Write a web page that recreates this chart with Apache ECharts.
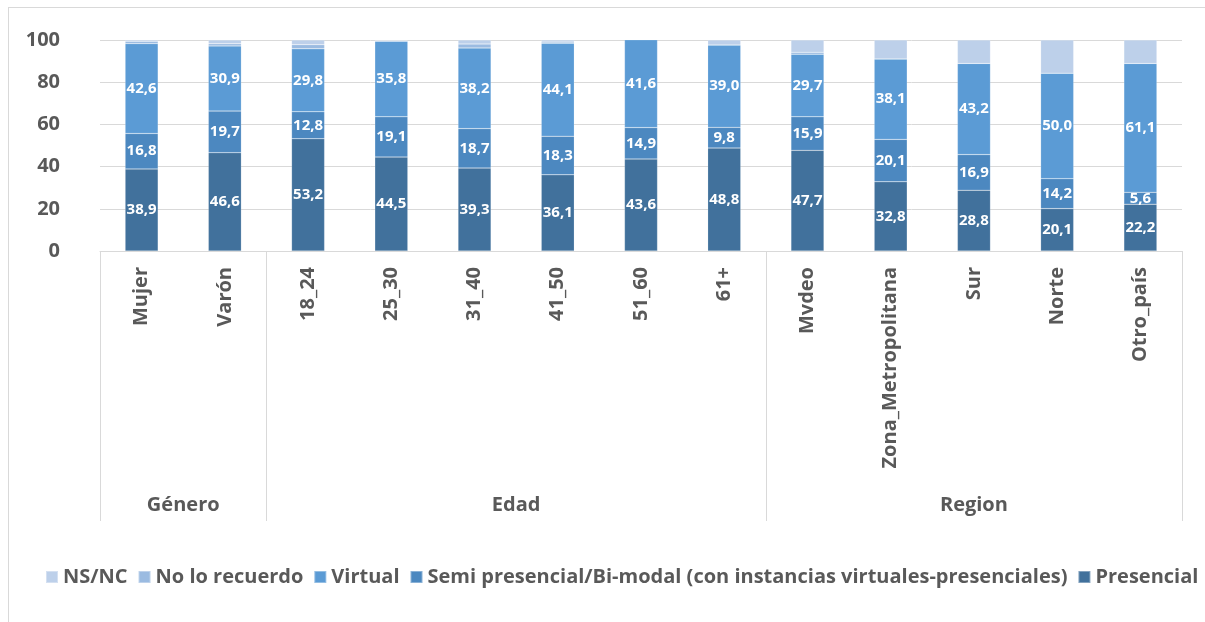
<!DOCTYPE html>
<html>
<head>
<meta charset="utf-8">
<script src="https://cdn.jsdelivr.net/npm/echarts@6/dist/echarts.min.js"></script>
<style>
  html, body { margin: 0; padding: 0; background: #fff; }
  #frame { position: absolute; left: 8px; top: 7px; width: 1300px; height: 700px; border: 1px solid #d9d9d9; box-sizing: border-box; }
  #chart { position: absolute; left: 0; top: 0; width: 1205px; height: 622px; }
</style>
</head>
<body>
<div id="frame"></div>
<div id="chart"></div>
<script>
const categories = ['Mujer', 'Varón', '18_24', '25_30', '31_40', '41_50', '51_60', '61+', 'Mvdeo', 'Zona_Metropolitana', 'Sur', 'Norte', 'Otro_país'];
const groups = ['Género', 'Edad', 'Region'];
const groupSizes = [2, 6, 5];

const presencial = [38.9, 46.6, 53.2, 44.5, 39.3, 36.1, 43.6, 48.8, 47.7, 32.8, 28.8, 20.1, 22.2];
const semi       = [16.8, 19.7, 12.8, 19.1, 18.7, 18.3, 14.9, 9.8, 15.9, 20.1, 16.9, 14.2, 5.6];
const virtual    = [42.6, 30.9, 29.8, 35.8, 38.2, 44.1, 41.6, 39.0, 29.7, 38.1, 43.2, 50.0, 61.1];
const noRecuerdo = [1.1, 1.0, 2.0, 0.3, 1.9, 0.5, 0.0, 0.0, 0.9, 0.0, 0.0, 0.0, 0.0];
const nsnc       = [0.6, 1.8, 2.2, 0.3, 1.9, 1.0, 0.0, 2.4, 5.8, 9.0, 11.1, 15.7, 11.1];

const yTicks = [0, 20, 40, 60, 80, 100];

const seriesNames = ['Presencial', 'Semi presencial/Bi-modal (con instancias virtuales-presenciales)', 'Virtual', 'No lo recuerdo', 'NS/NC'];
const seriesData = [presencial, semi, virtual, noRecuerdo, nsnc];
const colors = ['#41719C', '#4C88C0', '#5B9BD5', '#9BBBE1', '#BDD0EA'];
const labelled = [true, true, true, false, false];

// group boundaries and centers on a 0..13 value axis
const bounds = [0];
groupSizes.forEach(s => bounds.push(bounds[bounds.length - 1] + s));
const centers = groupSizes.map((s, i) => bounds[i] + s / 2);

const FONT = 'Open Sans';
const GREY = '#595959';

const chart = echarts.init(document.getElementById('chart'), null, { renderer: 'canvas' });

const series = seriesNames.map((name, i) => ({
  name: name,
  type: 'bar',
  stack: 'total',
  xAxisIndex: 0,
  yAxisIndex: 0,
  barWidth: 33,
  data: seriesData[i],
  itemStyle: { color: colors[i], borderColor: 'rgba(255,255,255,0.35)', borderWidth: 0.5 },
  label: {
    show: labelled[i],
    position: 'inside',
    color: '#fff',
    fontFamily: FONT,
    fontWeight: 'bold',
    fontSize: 15,
    formatter: p => p.value.toFixed(1).replace('.', ',')
  }
}));

chart.setOption({
  animation: false,
  textStyle: { fontFamily: FONT },
  grid: { left: 100, right: 23, top: 40, bottom: 371, containLabel: false },
  legend: {
    data: seriesNames.slice().reverse(),
    bottom: 30,
    left: 40,
    itemWidth: 12,
    itemHeight: 12,
    itemGap: 10,
    icon: 'rect',
    textStyle: { color: GREY, fontFamily: FONT, fontWeight: 'bold', fontSize: 20 }
  },
  xAxis: [
    {
      type: 'category',
      data: categories,
      axisLine: { show: true, lineStyle: { color: '#d9d9d9', width: 1 } },
      axisTick: { show: false },
      axisLabel: {
        rotate: 90,
        interval: 0,
        margin: 16,
        color: GREY,
        fontFamily: FONT,
        fontWeight: 'bold',
        fontSize: 20
      },
      splitLine: { show: false }
    },
    {
      type: 'value',
      min: 0,
      max: categories.length,
      position: 'bottom',
      axisLine: { show: false },
      splitLine: { show: false },
      axisTick: {
        show: true,
        customValues: bounds,
        length: 270,
        lineStyle: { color: '#d9d9d9', width: 1 }
      },
      axisLabel: {
        show: true,
        customValues: centers,
        margin: 244,
        color: GREY,
        fontFamily: FONT,
        fontWeight: 'bold',
        fontSize: 20,
        formatter: v => {
          const idx = centers.findIndex(c => Math.abs(c - v) < 1e-6);
          return idx >= 0 ? groups[idx] : '';
        }
      }
    }
  ],
  yAxis: {
    type: 'value',
    min: yTicks[0],
    max: yTicks[yTicks.length - 1],
    interval: 20,
    axisLine: { show: false },
    axisTick: { show: false },
    axisLabel: { margin: 40, color: GREY, fontFamily: FONT, fontWeight: 'bold', fontSize: 20 },
    splitLine: { lineStyle: { color: '#d9d9d9', width: 1 } }
  },
  series: series
});
</script>
</body>
</html>
